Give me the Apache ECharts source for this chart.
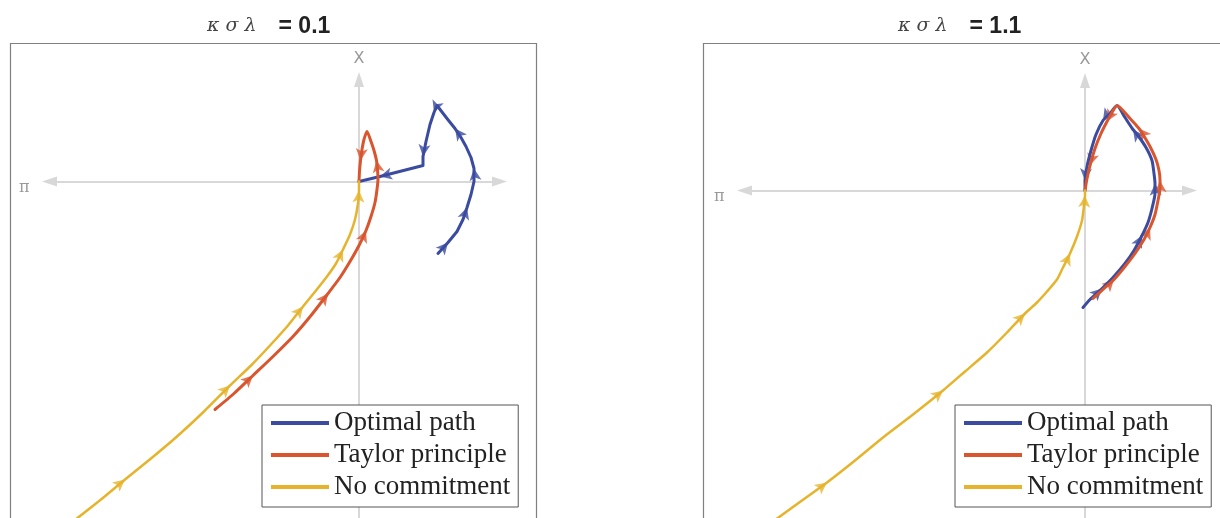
<!DOCTYPE html>
<html>
<head>
<meta charset="utf-8">
<script src="https://cdn.jsdelivr.net/npm/echarts@6.0.0/dist/echarts.min.js"></script>
<style>
html, body { margin: 0; padding: 0; background: #fff; }
#main { width: 1220px; height: 518px; }
</style>
</head>
<body>
<div id="main"></div>
<script>
// paths in the (pi, x) plane, one panel per kappa*sigma*lambda value
var seriesNames = ['Optimal path', 'Taylor principle', 'No commitment'];
var panelValues = ['0.1', '1.1'];

// kappa sigma lambda = 0.1
var optimalA = [[0.79,-0.72],[0.89,-0.61],[0.98,-0.50],[1.04,-0.38],[1.08,-0.26],[1.12,-0.13],[1.15,0.00],[1.15,0.13],[1.12,0.24],[1.07,0.35],[1.02,0.44],[0.96,0.53],[0.88,0.63],[0.78,0.76],[0.75,0.69],[0.71,0.57],[0.67,0.40],[0.64,0.25],[0.64,0.16],[0.21,0.05],[0,0]];
var taylorA = [[-1.44,-2.28],[-1.25,-2.12],[-1.06,-1.94],[-0.86,-1.75],[-0.66,-1.55],[-0.48,-1.34],[-0.31,-1.12],[-0.19,-0.96],[-0.09,-0.80],[0.00,-0.64],[0.07,-0.49],[0.12,-0.35],[0.16,-0.21],[0.18,-0.08],[0.19,0.03],[0.185,0.12],[0.175,0.21],[0.15,0.31],[0.12,0.40],[0.08,0.50],[0.05,0.42],[0.03,0.32],[0.015,0.21],[0.005,0.10],[0,0]];
var noCommitA = [[-2.86,-3.40],[-2.58,-3.18],[-2.34,-2.98],[-2.08,-2.77],[-1.82,-2.55],[-1.55,-2.30],[-1.29,-2.04],[-1.08,-1.84],[-0.89,-1.64],[-0.71,-1.44],[-0.56,-1.25],[-0.43,-1.09],[-0.32,-0.95],[-0.23,-0.82],[-0.16,-0.68],[-0.09,-0.53],[-0.04,-0.38],[-0.01,-0.22],[0.00,-0.09],[0,0]];

// kappa sigma lambda = 1.1
var optimalB = [[-0.02,-1.17],[0.05,-1.09],[0.17,-0.98],[0.28,-0.87],[0.40,-0.73],[0.49,-0.60],[0.57,-0.45],[0.63,-0.32],[0.67,-0.18],[0.70,-0.03],[0.70,0.07],[0.69,0.17],[0.67,0.30],[0.61,0.43],[0.53,0.55],[0.48,0.61],[0.40,0.73],[0.32,0.85],[0.25,0.77],[0.18,0.70],[0.11,0.56],[0.06,0.40],[0.02,0.24],[0.00,0.10],[0,0]];
var taylorB = [[0.08,-1.08],[0.19,-0.98],[0.29,-0.89],[0.40,-0.76],[0.50,-0.63],[0.59,-0.49],[0.65,-0.37],[0.70,-0.24],[0.73,-0.10],[0.75,0.02],[0.75,0.10],[0.74,0.20],[0.71,0.31],[0.65,0.44],[0.58,0.56],[0.54,0.62],[0.45,0.72],[0.32,0.85],[0.27,0.78],[0.22,0.69],[0.16,0.57],[0.10,0.42],[0.05,0.25],[0.02,0.12],[0,0]];
var noCommitB = [[-3.12,-3.31],[-2.83,-3.10],[-2.58,-2.92],[-2.30,-2.70],[-2.02,-2.47],[-1.72,-2.24],[-1.42,-2.00],[-1.20,-1.81],[-0.98,-1.62],[-0.78,-1.42],[-0.60,-1.23],[-0.48,-1.12],[-0.38,-1.01],[-0.28,-0.89],[-0.22,-0.77],[-0.15,-0.63],[-0.08,-0.46],[-0.03,-0.30],[-0.01,-0.15],[0.00,-0.05],[0,0]];

// which points carry a direction arrow
var optimalArrowsA = [1, 4, 7, 11, 14, 17, 19];
var taylorArrowsA = [2, 6, 10, 16, 22];
var noCommitArrowsA = [2, 6, 10, 14, 18];
var optimalArrowsB = [2, 6, 10, 15, 19, 23];
var taylorArrowsB = [2, 6, 10, 15, 19, 22];
var noCommitArrowsB = [2, 6, 10, 15, 19];

var colors = ['#3a4ba0', '#d9552e', '#e6b42c'];

var chartDom = document.getElementById('main');
var myChart = echarts.init(chartDom);

// arrowhead along the path, turned to follow the direction of travel
function arrowData(pts, idx) {
    return idx.map(function (i) {
        var a = pts[Math.max(i - 1, 0)];
        var b = pts[Math.min(i + 1, pts.length - 1)];
        var ang = Math.atan2(b[1] - a[1], b[0] - a[0]) * 180 / Math.PI;
        return { value: pts[i], symbolRotate: ang - 90 };
    });
}

function pathSeries(name, data, arrows, color, width, g, smooth) {
    return [
        {
            name: name,
            type: 'line',
            xAxisIndex: g,
            yAxisIndex: g,
            data: data,
            symbol: 'none',
            smooth: smooth,
            clip: false,
            silent: true,
            itemStyle: { color: color },
            lineStyle: { color: color, width: width, join: 'round', cap: 'round' }
        },
        {
            type: 'scatter',
            xAxisIndex: g,
            yAxisIndex: g,
            data: arrowData(data, arrows),
            symbol: 'arrow',
            symbolSize: [9, 12],
            clip: false,
            silent: true,
            itemStyle: { color: color }
        }
    ];
}

function xAxisFor(g, min, max) {
    return {
        gridIndex: g,
        type: 'value',
        min: min,
        max: max,
        name: 'π',
        nameLocation: 'start',
        nameGap: 20,
        nameTextStyle: { color: '#9a9a9a', fontSize: 16, fontFamily: 'DejaVu Serif', verticalAlign: 'top', lineHeight: 12 },
        axisLine: {
            onZero: true,
            symbol: ['triangle', 'triangle'],
            symbolSize: [10, 15],
            lineStyle: { color: '#d8d8d8', width: 2 }
        },
        axisTick: { show: false },
        axisLabel: { show: false },
        splitLine: { show: false }
    };
}

function yAxisFor(g, min, max) {
    return {
        gridIndex: g,
        type: 'value',
        min: min,
        max: max,
        name: 'X',
        nameLocation: 'end',
        nameGap: 13,
        nameTextStyle: { color: '#999', fontSize: 16, fontFamily: 'DejaVu Sans' },
        axisLine: {
            onZero: true,
            symbol: ['none', 'triangle'],
            symbolSize: [10, 15],
            lineStyle: { color: '#d8d8d8', width: 2 }
        },
        axisTick: { show: false },
        axisLabel: { show: false },
        splitLine: { show: false }
    };
}

function titleFor(left, value) {
    return {
        text: '{a|κ σ λ}{b|= ' + value + '}',
        left: left,
        top: 15,
        padding: 0,
        textStyle: {
            rich: {
                a: { fontFamily: 'DejaVu Serif', fontStyle: 'italic', fontWeight: 'normal', fontSize: 19, color: '#444' },
                b: { fontFamily: 'Liberation Sans', fontWeight: 'bold', fontSize: 23, color: '#222', padding: [0, 0, 0, 22] }
            }
        }
    };
}

function legendFor(left) {
    return {
        data: seriesNames,
        left: left,
        top: 405,
        orient: 'vertical',
        icon: 'rect',
        itemWidth: 58,
        itemHeight: 4,
        itemGap: 4,
        padding: [4, 8, 6, 9],
        backgroundColor: '#fff',
        borderColor: '#555',
        borderWidth: 1,
        selectedMode: false,
        textStyle: { fontFamily: 'Liberation Serif', fontSize: 27, lineHeight: 28, color: '#222' }
    };
}

var option = {
    animation: false,
    backgroundColor: '#fff',
    title: [titleFor(207, panelValues[0]), titleFor(898, panelValues[1])],
    legend: [legendFor(262), legendFor(955)],
    graphic: [
        { type: 'rect', silent: true, shape: { x: 10.5, y: 43.5, width: 526, height: 520 }, style: { fill: 'none', stroke: '#808080', lineWidth: 1.2 } },
        { type: 'rect', silent: true, shape: { x: 703.5, y: 43.5, width: 526, height: 520 }, style: { fill: 'none', stroke: '#808080', lineWidth: 1.2 } }
    ],
    grid: [
        { left: 49.5, top: 79.5, width: 450, height: 462, outerBoundsMode: 'none', containLabel: false },
        { left: 744.5, top: 80.5, width: 445, height: 461, outerBoundsMode: 'none', containLabel: false }
    ],
    xAxis: [xAxisFor(0, -3.095, 1.405), xAxisFor(1, -3.405, 1.045)],
    yAxis: [yAxisFor(0, -3.60, 1.02), yAxisFor(1, -3.51, 1.10)],
    series: [].concat(
        pathSeries(seriesNames[0], optimalA, optimalArrowsA, colors[0], 3, 0, false),
        pathSeries(seriesNames[1], taylorA, taylorArrowsA, colors[1], 3, 0, 0.2),
        pathSeries(seriesNames[2], noCommitA, noCommitArrowsA, colors[2], 2.5, 0, 0.2),
        pathSeries(seriesNames[0], optimalB, optimalArrowsB, colors[0], 3, 1, 0.2),
        pathSeries(seriesNames[1], taylorB, taylorArrowsB, colors[1], 3, 1, 0.2),
        pathSeries(seriesNames[2], noCommitB, noCommitArrowsB, colors[2], 2.5, 1, 0.2)
    )
};

option && myChart.setOption(option);
</script>
</body>
</html>
